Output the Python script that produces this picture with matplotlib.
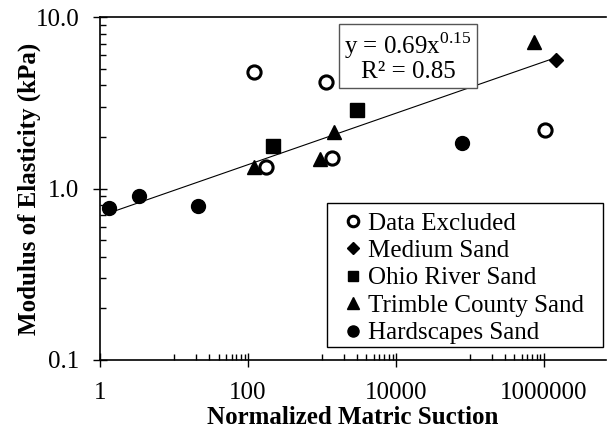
import numpy as np
import matplotlib
matplotlib.use("Agg")
import matplotlib.pyplot as plt
from matplotlib.patches import Rectangle
from matplotlib.ticker import FixedLocator, FixedFormatter, NullFormatter

SERIF = 'Liberation Serif'
plt.rcParams['font.family'] = 'serif'
plt.rcParams['font.serif'] = [SERIF, 'DejaVu Serif']
plt.rcParams['mathtext.fontset'] = 'custom'
plt.rcParams['mathtext.rm'] = SERIF

# data
excluded_x = [122, 1120, 174, 1350, 1.03e6]
excluded_y = [4.77, 4.2, 1.34, 1.51, 2.2]
medium_x = [1.45e6]
medium_y = [5.62]
ohio_x = [220, 2940]
ohio_y = [1.76, 2.88]
trimble_x = [122, 937, 1450, 7.4e5]
trimble_y = [1.33, 1.49, 2.14, 7.18]
hard_x = [1.34, 3.37, 20.9, 78700]
hard_y = [0.77, 0.90, 0.79, 1.83]

fit_a = 0.69
fit_b = 0.15
fit_r2 = 0.85

x_major = [1, 100, 10000, 1000000]
x_major_labels = ["1", "100", "10000", "1000000"]
y_major = [0.1, 1.0, 10.0]
y_major_labels = ["0.1", "1.0", "10.0"]

W, H = 607, 433
fig = plt.figure(figsize=(W / 100, H / 100), dpi=100)
ax = fig.add_axes([100 / W, 1 - 360 / H, 506 / W, 343 / H])

# trendline over the fitted points
all_x = hard_x + trimble_x + ohio_x + medium_x
tx = np.array([min(all_x), max(all_x)])
ax.plot(tx, fit_a * tx ** fit_b, color="black", lw=0.8, zorder=1)

ms = 9.5
ax.plot(excluded_x, excluded_y, 'o', ms=ms, mfc='white', mec='black', mew=2.2,
        ls='none', label="Data Excluded", zorder=3)
ax.plot(medium_x, medium_y, 'D', ms=7.5, color='black', ls='none', label="Medium Sand", zorder=3)
ax.plot(ohio_x, ohio_y, 's', ms=ms, color='black', ls='none', label="Ohio River Sand", zorder=3)
ax.plot(trimble_x, trimble_y, '^', ms=ms + 0.5, color='black', ls='none',
        label="Trimble County Sand", zorder=2)
ax.plot(hard_x, hard_y, 'o', ms=ms + 0.5, color='black', ls='none', label="Hardscapes Sand", zorder=3)

ax.set_xscale('log')
ax.set_yscale('log')
ax.set_xlim(1, 10 ** 6.84)
ax.set_ylim(0.1, 10)

x_minor = [k * 10 ** e for e in (1, 3, 5) for k in range(1, 10)]
ax.xaxis.set_major_locator(FixedLocator(x_major))
ax.xaxis.set_major_formatter(FixedFormatter(x_major_labels))
ax.xaxis.set_minor_locator(FixedLocator(x_minor))
ax.xaxis.set_minor_formatter(NullFormatter())
y_minor = [k * 10 ** e for e in (-1, 0) for k in range(2, 10)]
ax.yaxis.set_major_locator(FixedLocator(y_major))
ax.yaxis.set_major_formatter(FixedFormatter(y_major_labels))
ax.yaxis.set_minor_locator(FixedLocator(y_minor))
ax.yaxis.set_minor_formatter(NullFormatter())

ax.tick_params(which='major', direction='inout', length=10, width=1, labelsize=18,
               labelfontfamily=SERIF)
ax.tick_params(which='minor', direction='in', length=4, width=1)
ax.tick_params(axis='x', which='major', pad=11)
ax.tick_params(axis='y', which='major', pad=10)
ax.spines['right'].set_visible(False)
for s in ('left', 'bottom', 'top'):
    ax.spines[s].set_linewidth(1.2)

ax.set_xlabel("Normalized Matric Suction", fontsize=18, fontweight='bold', labelpad=1)
ax.set_ylabel("Modulus of Elasticity (kPa)", fontsize=18, fontweight='bold')
ax.yaxis.set_label_coords(-0.116, 0.5)

ax.text(0.5, 0.5, "y = %.2fx$^{%.2f}$\nR² = %.2f" % (fit_a, fit_b, fit_r2),
        transform=fig.transFigure, fontsize=18, ha='center', va='center',
        position=(408 / W, 1 - 57 / H), linespacing=1.0,
        bbox=dict(boxstyle='square,pad=0.2', fc='white', ec='#555555', lw=1))

# legend box drawn separately so its padding matches the original
ax.add_patch(Rectangle((327 / W, 1 - 347 / H), 276 / W, 144 / H, transform=fig.transFigure,
                       fc='white', ec='black', lw=1, zorder=4, clip_on=False))
leg = ax.legend(loc='upper left', bbox_to_anchor=(345 / W, 1 - 212 / H),
                bbox_transform=fig.transFigure, prop={'family': SERIF, 'size': 18},
                frameon=False, handlelength=0.6, handletextpad=0.32, labelspacing=0.2,
                borderpad=0, borderaxespad=0, markerscale=0.8)
leg.set_zorder(5)

fig.savefig("out.png", dpi=100)
